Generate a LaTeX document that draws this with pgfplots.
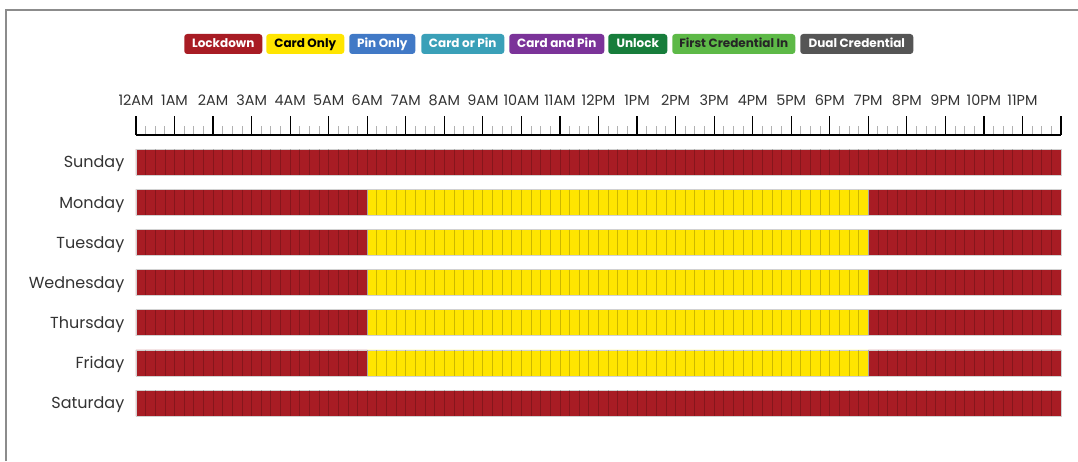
\documentclass[border=0pt]{standalone}
\usepackage{pgfplots}
\pgfplotsset{compat=1.18}
\usepackage{pgfplotstable}
\usepackage{fontspec}
\setmainfont{Poppins}
\definecolor{lockred}{HTML}{A81C24}
\definecolor{cardyellow}{HTML}{FFE500}
\definecolor{pinblue}{HTML}{4179C6}
\definecolor{cardorpin}{HTML}{3AA0B8}
\definecolor{cardandpin}{HTML}{7B3399}
\definecolor{unlockgreen}{HTML}{177D3B}
\definecolor{firstcred}{HTML}{5DB947}
\definecolor{dualcred}{HTML}{555555}
\definecolor{labelgray}{HTML}{333333}
\definecolor{framegray}{HTML}{8C8C8C}

% cell boundaries (15-minute slots), row offset 0
\pgfplotstableread[row sep=\\]{
x y\\ 1 0\\ 2 0\\ 3 0\\ 4 0\\ 5 0\\ 6 0\\ 7 0\\ 8 0\\ 9 0\\ 10 0\\ 11 0\\ 12 0\\ 13 0\\ 14 0\\ 15 0\\ 16 0\\ 17 0\\ 18 0\\ 19 0\\ 20 0\\
21 0\\ 22 0\\ 23 0\\ 24 0\\ 25 0\\ 26 0\\ 27 0\\ 28 0\\ 29 0\\ 30 0\\ 31 0\\ 32 0\\ 33 0\\ 34 0\\ 35 0\\ 36 0\\ 37 0\\ 38 0\\ 39 0\\ 40 0\\
41 0\\ 42 0\\ 43 0\\ 44 0\\ 45 0\\ 46 0\\ 47 0\\ 48 0\\ 49 0\\ 50 0\\ 51 0\\ 52 0\\ 53 0\\ 54 0\\ 55 0\\ 56 0\\ 57 0\\ 58 0\\ 59 0\\ 60 0\\
61 0\\ 62 0\\ 63 0\\ 64 0\\ 65 0\\ 66 0\\ 67 0\\ 68 0\\ 69 0\\ 70 0\\ 71 0\\ 72 0\\ 73 0\\ 74 0\\ 75 0\\ 76 0\\ 77 0\\ 78 0\\ 79 0\\ 80 0\\
81 0\\ 82 0\\ 83 0\\ 84 0\\ 85 0\\ 86 0\\ 87 0\\ 88 0\\ 89 0\\ 90 0\\ 91 0\\ 92 0\\ 93 0\\ 94 0\\ 95 0\\
}\divtab

\begin{document}
\begin{tikzpicture}
\pgfplotsset{
  commonaxis/.style={
    at={(0,0)}, anchor=south west,
    scale only axis, width=693.75pt, height=216.15pt,
    xmin=0, xmax=96, ymin=-0.675, ymax=6.5, y dir=reverse,
    clip=false,
  },
  divider/.style={only marks, mark=|, mark size=9.5pt, black, opacity=0.2,
    mark options={line width=0.6pt}},
}
\begin{axis}[commonaxis, name=main,
  axis x line*=top, axis y line*=left,
  y axis line style={draw=none},
  x axis line style={line width=1pt, black},
  xtick={0,4,...,96},
  xticklabels={12AM,1AM,2AM,3AM,4AM,5AM,6AM,7AM,8AM,9AM,10AM,11AM,12PM,1PM,2PM,3PM,4PM,5PM,6PM,7PM,8PM,9PM,10PM,11PM,{}},
  minor x tick num=3,
  tick align=outside,
  major tick length=14.25pt, minor tick length=6.75pt,
  major x tick style={black, line width=0.9pt},
  minor x tick style={black!30, line width=0.7pt},
  ytick={0,1,2,3,4,5,6},
  yticklabels={Sunday,Monday,Tuesday,Wednesday,Thursday,Friday,Saturday},
  major y tick style={draw=none},
  xticklabel style={font=\fontsize{10.8}{12}\selectfont, text=labelgray, yshift=4.5pt},
  yticklabel style={font=\fontsize{12}{14}\selectfont, text=labelgray, xshift=9pt, yshift=-1.5pt},
  xbar stacked, bar width=19.5pt, bar shift=0pt,
]
\addplot[fill=lockred, draw=black!18, line width=0.5pt]
  coordinates {(96,0) (24,1) (24,2) (24,3) (24,4) (24,5) (96,6)};
\addplot[fill=cardyellow, draw=black!18, line width=0.5pt]
  coordinates {(0,0) (52,1) (52,2) (52,3) (52,4) (52,5) (0,6)};
\addplot[fill=lockred, draw=black!18, line width=0.5pt]
  coordinates {(0,0) (20,1) (20,2) (20,3) (20,4) (20,5) (0,6)};
\end{axis}

\begin{axis}[commonaxis, hide axis]
\addplot[divider] table[x=x, y expr=\thisrow{y}+0] {\divtab};
\addplot[divider] table[x=x, y expr=\thisrow{y}+1] {\divtab};
\addplot[divider] table[x=x, y expr=\thisrow{y}+2] {\divtab};
\addplot[divider] table[x=x, y expr=\thisrow{y}+3] {\divtab};
\addplot[divider] table[x=x, y expr=\thisrow{y}+4] {\divtab};
\addplot[divider] table[x=x, y expr=\thisrow{y}+5] {\divtab};
\addplot[divider] table[x=x, y expr=\thisrow{y}+6] {\divtab};
\end{axis}

% legend
\tikzset{leg/.style={rounded corners=2.25pt, minimum height=15pt, anchor=west,
  inner sep=0pt, text height=6.6pt, text depth=1.6pt,
  font=\bfseries\fontsize{9}{10}\selectfont, text=white}}
\node[leg, fill=lockred, minimum width=58.5pt] at ([xshift=36pt, yshift=68.25pt]main.north west) {Lockdown};
\node[leg, fill=cardyellow, text=black, minimum width=58.5pt] at ([xshift=97.5pt, yshift=68.25pt]main.north west) {Card Only};
\node[leg, fill=pinblue, minimum width=49.5pt] at ([xshift=159.75pt, yshift=68.25pt]main.north west) {Pin Only};
\node[leg, fill=cardorpin, minimum width=62.25pt] at ([xshift=213.75pt, yshift=68.25pt]main.north west) {Card or Pin};
\node[leg, fill=cardandpin, minimum width=71.25pt] at ([xshift=279.75pt, yshift=68.25pt]main.north west) {Card and Pin};
\node[leg, fill=unlockgreen, minimum width=44.25pt] at ([xshift=354pt, yshift=68.25pt]main.north west) {Unlock};
\node[leg, fill=firstcred, text=black!85, minimum width=92.25pt] at ([xshift=402pt, yshift=68.25pt]main.north west) {First Credential In};
\node[leg, fill=dualcred, minimum width=84.75pt] at ([xshift=498pt, yshift=68.25pt]main.north west) {Dual Credential};

% frame
\draw[framegray, line width=1pt]
  ([xshift=-97.5pt, yshift=-28.4pt]main.south west) --
  ([xshift=-97.5pt, yshift=93.75pt]main.north west) --
  ([xshift=12.75pt, yshift=93.75pt]main.north east);

\pgfresetboundingbox
\path ([xshift=-102pt, yshift=-28.4pt]main.south west) rectangle ([xshift=12.75pt, yshift=101.25pt]main.north east);
\end{tikzpicture}
\end{document}
